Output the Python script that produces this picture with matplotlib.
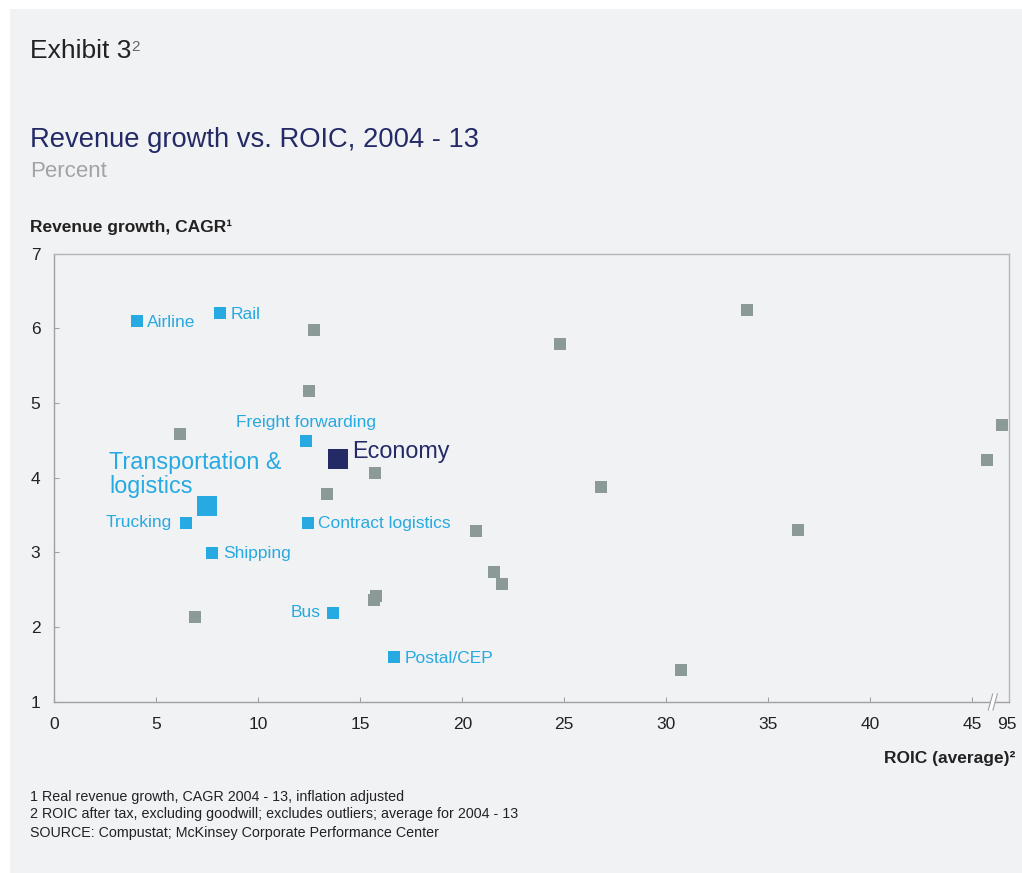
import matplotlib
matplotlib.use("Agg")
import matplotlib.pyplot as plt
from matplotlib.patches import Rectangle, Polygon
from matplotlib.lines import Line2D

plt.rcParams['font.family'] = ['Liberation Sans', 'DejaVu Sans']

# ---------------- data ----------------
segment_names = ["Airline", "Rail", "Freight forwarding", "Trucking",
                 "Contract logistics", "Shipping", "Bus", "Postal/CEP"]
segment_roic = [4.04, 8.14, 12.34, 6.44, 12.45, 7.75, 13.65, 16.65]
segment_growth = [6.10, 6.20, 4.49, 3.40, 3.40, 2.99, 2.19, 1.60]

sector_name = "Transportation &\nlogistics"
sector_roic = [7.50]
sector_growth = [3.62]

economy_name = "Economy"
economy_roic = [13.92]
economy_growth = [4.25]

other_roic = [12.72, 12.47, 6.18, 13.70, 15.70, 13.35, 6.90, 15.66, 15.78,
              24.79, 33.94, 26.81, 20.67, 21.54, 21.93, 36.47, 30.72,
              45.74, 46.47]
other_growth = [5.98, 5.16, 4.59, 4.28, 4.06, 3.78, 2.14, 2.36, 2.41,
                5.79, 6.24, 3.88, 3.28, 2.74, 2.57, 3.30, 1.43,
                4.24, 4.70]

x_ticks = [0, 5, 10, 15, 20, 25, 30, 35, 40, 45, 46.7]
x_tick_labels = ["0", "5", "10", "15", "20", "25", "30", "35", "40", "45", "95"]
y_ticks = [1, 2, 3, 4, 5, 6, 7]
y_tick_labels = ["1", "2", "3", "4", "5", "6", "7"]

# ---------------- style ----------------
W, H = 1022, 873
BG = "#f1f2f4"
BLUE = "#27a9e1"
GRAY = "#8c9a97"
NAVY = "#232a66"
SPINE = "#a0a0a0"
TXT = "#222222"

# label offsets in pixels: (dx, dy-from-marker-center downward, ha)
label_offsets = [(10, 6.3, "left"), (10.4, 5.6, "left"), (0, -13.7, "center"),
                 (-13.4, 5.0, "right"), (10, 5.6, "left"), (11, 5.3, "left"),
                 (-12, 4.0, "right"), (11, 6.0, "left")]

fig = plt.figure(figsize=(W / 100, H / 100), dpi=100)
fig.patch.set_facecolor("white")
fig.patches.append(Rectangle((10 / W, 0), (W - 10) / W, 1 - 9 / H,
                             transform=fig.transFigure, facecolor=BG,
                             edgecolor="none", zorder=-10))

def fx(px):
    return px / W

def fy(py):
    return 1 - py / H

ax_left, ax_right, ax_top, ax_bottom = 54.3, 1008.7, 253.7, 701.7
ax = fig.add_axes([fx(ax_left), fy(ax_bottom), (ax_right - ax_left) / W,
                   (ax_bottom - ax_top) / H])
ax.set_facecolor(BG)
ax.set_xlim(0, (ax_right - ax_left) / 20.4)
ax.set_ylim(1, 7)

for s in ["left", "bottom"]:
    ax.spines[s].set_color(SPINE)
    ax.spines[s].set_linewidth(1.0)
for s in ["top", "right"]:
    ax.spines[s].set_color("#b5b5b5")
    ax.spines[s].set_linewidth(1.0)

ax.set_xticks(x_ticks)
ax.set_xticklabels(x_tick_labels)
ax.set_yticks(y_ticks)
ax.set_yticklabels(y_tick_labels)
ax.tick_params(axis="both", direction="in", length=3.6, width=0.75,
               color=SPINE, labelsize=12.5, labelcolor=TXT)
ax.tick_params(axis="x", pad=11)
ax.tick_params(axis="y", pad=10)
ax.xaxis.get_major_ticks()[-1].tick1line.set_visible(False)

# markers
ax.scatter(other_roic, other_growth, marker="s", s=84, color=GRAY,
           linewidths=0, zorder=3)
ax.scatter(segment_roic, segment_growth, marker="s", s=84, color=BLUE,
           linewidths=0, zorder=4)
ax.scatter(sector_roic, sector_growth, marker="s", s=190, color=BLUE,
           linewidths=0, zorder=4)
ax.scatter(economy_roic, economy_growth, marker="s", s=205, color=NAVY,
           linewidths=0, zorder=5)

for name, x, y, (dx, dy, ha) in zip(segment_names, segment_roic,
                                    segment_growth, label_offsets):
    ax.annotate(name, (x, y), xytext=(dx * 0.72, -dy * 0.72),
                textcoords="offset points", ha=ha, va="baseline",
                fontsize=12.5, color=BLUE, zorder=6)

ax.annotate(sector_name, (sector_roic[0], sector_growth[0]),
            xytext=((109.3 - 207.3) * 0.72, (506 - 493.3) * 0.72),
            textcoords="offset points", ha="left", va="baseline",
            fontsize=16.8, color=BLUE, linespacing=1.08, zorder=6)
ax.annotate(economy_name, (economy_roic[0], economy_growth[0]),
            xytext=(13.4 * 0.72, 0.6 * 0.72), textcoords="offset points",
            ha="left", va="baseline", fontsize=16.8, color=NAVY, zorder=6)

# axis break marks
bx = [(988.3, 710), (992.7, 694), (997.3, 694), (992.9, 710)]
poly = Polygon([(fx(a), fy(b)) for a, b in bx], closed=True,
               transform=fig.transFigure, facecolor="white",
               edgecolor="none", zorder=20)
fig.patches.append(poly)
for (a0, b0), (a1, b1) in [(bx[0], bx[1]), (bx[3], bx[2])]:
    fig.lines.append(Line2D([fx(a0), fx(a1)], [fy(b0), fy(b1)],
                            transform=fig.transFigure, color=SPINE,
                            linewidth=0.8, zorder=21))

# texts
t = fig.text(fx(30), fy(58.3), "Exhibit 3", fontsize=19, color=TXT,
             va="baseline", ha="left")
fig.canvas.draw()
bb = t.get_window_extent()
fig.text(bb.x1 / W, fy(40), "2", fontsize=11, color="#666666",
         va="top", ha="left")
fig.text(fx(30), fy(146.7), "Revenue growth vs. ROIC, 2004 - 13",
         fontsize=19.75, color=NAVY, va="baseline", ha="left")
fig.text(fx(30), fy(176.7), "Percent", fontsize=16, color="#a3a3a3",
         va="baseline", ha="left")
fig.text(fx(30), fy(232.3), "Revenue growth, CAGR\u00b9", fontsize=12.5,
         fontweight="bold", color=TXT, va="baseline", ha="left")
fig.text(fx(1015), fy(763), "ROIC (average)\u00b2", fontsize=12.5,
         fontweight="bold", color=TXT, va="baseline", ha="right")

fig.text(fx(30), fy(801), "1 Real revenue growth, CAGR 2004 - 13, inflation adjusted",
         fontsize=10.3, color=TXT, va="baseline", ha="left")
fig.text(fx(30), fy(818), "2 ROIC after tax, excluding goodwill; excludes outliers; average for 2004 - 13",
         fontsize=10.3, color=TXT, va="baseline", ha="left")
fig.text(fx(30), fy(837), "SOURCE: Compustat; McKinsey Corporate Performance Center",
         fontsize=10.3, color=TXT, va="baseline", ha="left")

fig.savefig("out.png", dpi=100, facecolor=fig.get_facecolor())
